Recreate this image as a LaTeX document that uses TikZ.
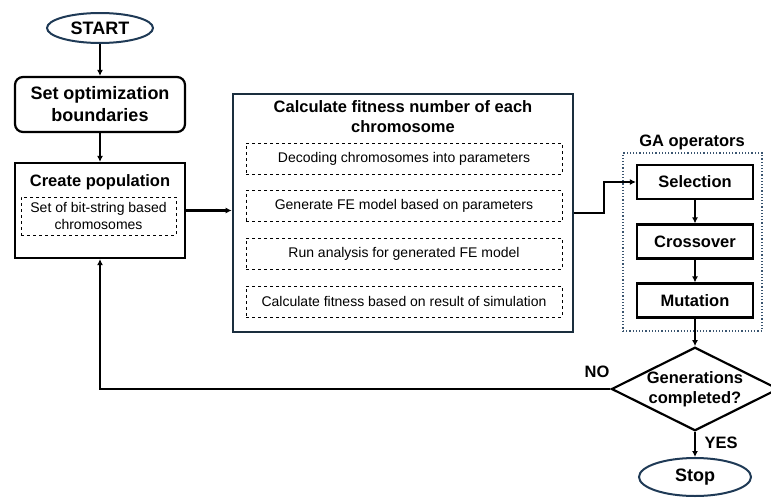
\documentclass[tikz,border=0pt]{standalone}
\usepackage{fontspec}
\setmainfont{Liberation Sans}
\usetikzlibrary{arrows.meta,shapes.geometric}
\definecolor{navy}{HTML}{1F3A56}
\definecolor{deepnavy}{HTML}{1A2E3E}
\definecolor{slate}{HTML}{3A5570}
\begin{document}
\begin{tikzpicture}[
        x=1pt, y=-1pt,
        every node/.style={font=\fontsize{16.5}{20}\selectfont\bfseries, align=center, inner sep=0pt},
        big/.style={font=\fontsize{18}{22}\selectfont\bfseries},
        arr/.style={draw, -{Latex[length=6pt,width=6pt]}, line width=2.2pt},
        term/.style={draw=navy, ellipse, line width=2pt},
        proc/.style={draw, line width=2.2pt, minimum width=116pt, minimum height=34pt},
        sub/.style={draw, dashed, line width=1pt, font=\fontsize{14}{17.5}\selectfont, minimum width=316pt, minimum height=31pt},
    ]
    \useasboundingbox (0,0) rectangle (771,498);
    \node[term, big, minimum width=106pt, minimum height=30pt](start) at (100,28) {START};
    \node[proc, big, rounded corners=8pt, minimum width=170pt, minimum height=55pt](bound) at (100,104.5) {Set optimization\\boundaries};
    \node[proc, minimum width=170pt, minimum height=95pt](pop) at (100,210.5) {};
    \node[](poptitle) at (100,182) {Create population};
    \node[sub, minimum width=155pt, minimum height=38pt](popsub) at (98.5,216) {Set of bit-string based\\chromosomes};
    \node[draw=deepnavy, line width=2.6pt, minimum width=340pt, minimum height=238pt](calc) at (403,213) {};
    \node[](calctitle) at (403,117) {Calculate fitness number of each\\chromosome};
    \foreach \y/\txt/\nm in {158.5/Decoding chromosomes into parameters/fe1,
                             206/Generate FE model based on parameters/fe2,
                             253.5/Run analysis for generated FE model/fe3,
                             301.5/Calculate fitness based on result of simulation/fe4}
        \node[sub](\nm) at (404,\y) {\txt};
    \node[draw=slate, dotted, line width=1.2pt, minimum width=139pt, minimum height=178pt](ga) at (692.5,242) {};
    \node[](galabel) at (692,142) {GA operators};
    \node[proc](sel) at (695,182) {Selection};
    \node[proc](cross) at (695,241.5) {Crossover};
    \node[proc](mut) at (695,300.5) {Mutation};
    \node[draw, diamond, shape aspect=2, line width=2.2pt](gen) at (695,389) {Generations\\completed?};
    \node[term, big, minimum width=112pt, minimum height=38pt](stop) at (695,477) {Stop};
    \node[](no) at (597,372) {NO};
    \node[](yes) at (721,443) {YES};
    \draw[arr] (start) -- (bound);
    \draw[arr] (bound) -- (pop);
    \draw[arr] (pop.east) -- (pop.east -| calc.west);
    \draw[arr] (calc.east) -- ++(30,0) |- (sel.west);
    \draw[arr] (sel) -- (cross);
    \draw[arr] (cross) -- (mut);
    \draw[arr] (mut) -- (gen);
    \draw[arr] (gen) -- (stop);
    \draw[arr] (gen.west) -| (pop.south);
\end{tikzpicture}
\end{document}
